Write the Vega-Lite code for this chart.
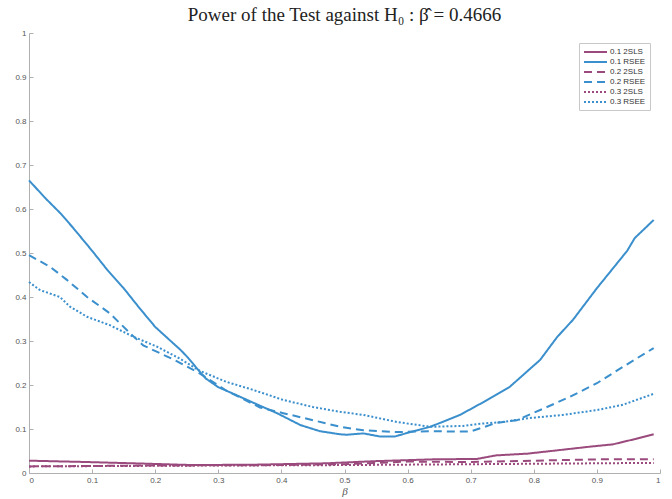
{
  "$schema": "https://vega.github.io/schema/vega-lite/v6.json",
  "width": 631,
  "height": 440,
  "autosize": {"type": "none"},
  "padding": {"left": 29, "top": 33, "right": 12, "bottom": 26},
  "background": "white",
  "title": {
    "text": "Power of the Test against H₀ : β̂ = 0.4666",
    "font": "Liberation Serif",
    "fontSize": 19,
    "fontWeight": "normal",
    "color": "#222",
    "anchor": "middle",
    "offset": 4
  },
  "config": {
    "view": {"stroke": null},
    "axis": {
      "grid": false,
      "domainColor": "#b0b0b0",
      "tickColor": "#b0b0b0",
      "labelColor": "#555",
      "labelFont": "Liberation Sans",
      "labelFontSize": 8,
      "tickSize": -4,
      "labelPadding": 7
    }
  },
  "data": {
    "values": [
      {"x": 0, "y": 0.665, "s": "0.1 RSEE"},
      {"x": 0.027, "y": 0.623, "s": "0.1 RSEE"},
      {"x": 0.05, "y": 0.59, "s": "0.1 RSEE"},
      {"x": 0.07, "y": 0.557, "s": "0.1 RSEE"},
      {"x": 0.1, "y": 0.505, "s": "0.1 RSEE"},
      {"x": 0.125, "y": 0.46, "s": "0.1 RSEE"},
      {"x": 0.15, "y": 0.42, "s": "0.1 RSEE"},
      {"x": 0.175, "y": 0.375, "s": "0.1 RSEE"},
      {"x": 0.2, "y": 0.332, "s": "0.1 RSEE"},
      {"x": 0.223, "y": 0.302, "s": "0.1 RSEE"},
      {"x": 0.24, "y": 0.28, "s": "0.1 RSEE"},
      {"x": 0.252, "y": 0.262, "s": "0.1 RSEE"},
      {"x": 0.266, "y": 0.238, "s": "0.1 RSEE"},
      {"x": 0.28, "y": 0.215, "s": "0.1 RSEE"},
      {"x": 0.3, "y": 0.195, "s": "0.1 RSEE"},
      {"x": 0.324, "y": 0.18, "s": "0.1 RSEE"},
      {"x": 0.355, "y": 0.16, "s": "0.1 RSEE"},
      {"x": 0.393, "y": 0.136, "s": "0.1 RSEE"},
      {"x": 0.43, "y": 0.109, "s": "0.1 RSEE"},
      {"x": 0.461, "y": 0.095, "s": "0.1 RSEE"},
      {"x": 0.493, "y": 0.088, "s": "0.1 RSEE"},
      {"x": 0.504, "y": 0.087, "s": "0.1 RSEE"},
      {"x": 0.53, "y": 0.09, "s": "0.1 RSEE"},
      {"x": 0.556, "y": 0.083, "s": "0.1 RSEE"},
      {"x": 0.58, "y": 0.083, "s": "0.1 RSEE"},
      {"x": 0.604, "y": 0.093, "s": "0.1 RSEE"},
      {"x": 0.636, "y": 0.105, "s": "0.1 RSEE"},
      {"x": 0.683, "y": 0.132, "s": "0.1 RSEE"},
      {"x": 0.72, "y": 0.161, "s": "0.1 RSEE"},
      {"x": 0.762, "y": 0.196, "s": "0.1 RSEE"},
      {"x": 0.81, "y": 0.257, "s": "0.1 RSEE"},
      {"x": 0.837, "y": 0.309, "s": "0.1 RSEE"},
      {"x": 0.862, "y": 0.348, "s": "0.1 RSEE"},
      {"x": 0.9, "y": 0.42, "s": "0.1 RSEE"},
      {"x": 0.948, "y": 0.505, "s": "0.1 RSEE"},
      {"x": 0.96, "y": 0.534, "s": "0.1 RSEE"},
      {"x": 0.99, "y": 0.575, "s": "0.1 RSEE"},

      {"x": 0, "y": 0.495, "s": "0.2 RSEE"},
      {"x": 0.033, "y": 0.469, "s": "0.2 RSEE"},
      {"x": 0.06, "y": 0.439, "s": "0.2 RSEE"},
      {"x": 0.092, "y": 0.4, "s": "0.2 RSEE"},
      {"x": 0.128, "y": 0.363, "s": "0.2 RSEE"},
      {"x": 0.16, "y": 0.318, "s": "0.2 RSEE"},
      {"x": 0.181, "y": 0.29, "s": "0.2 RSEE"},
      {"x": 0.229, "y": 0.258, "s": "0.2 RSEE"},
      {"x": 0.271, "y": 0.226, "s": "0.2 RSEE"},
      {"x": 0.313, "y": 0.187, "s": "0.2 RSEE"},
      {"x": 0.366, "y": 0.149, "s": "0.2 RSEE"},
      {"x": 0.403, "y": 0.136, "s": "0.2 RSEE"},
      {"x": 0.45, "y": 0.12, "s": "0.2 RSEE"},
      {"x": 0.493, "y": 0.105, "s": "0.2 RSEE"},
      {"x": 0.53, "y": 0.097, "s": "0.2 RSEE"},
      {"x": 0.583, "y": 0.093, "s": "0.2 RSEE"},
      {"x": 0.636, "y": 0.095, "s": "0.2 RSEE"},
      {"x": 0.699, "y": 0.094, "s": "0.2 RSEE"},
      {"x": 0.741, "y": 0.114, "s": "0.2 RSEE"},
      {"x": 0.773, "y": 0.12, "s": "0.2 RSEE"},
      {"x": 0.821, "y": 0.15, "s": "0.2 RSEE"},
      {"x": 0.857, "y": 0.173, "s": "0.2 RSEE"},
      {"x": 0.9, "y": 0.204, "s": "0.2 RSEE"},
      {"x": 0.941, "y": 0.241, "s": "0.2 RSEE"},
      {"x": 0.99, "y": 0.284, "s": "0.2 RSEE"},

      {"x": 0, "y": 0.434, "s": "0.3 RSEE"},
      {"x": 0.017, "y": 0.416, "s": "0.3 RSEE"},
      {"x": 0.049, "y": 0.4, "s": "0.3 RSEE"},
      {"x": 0.065, "y": 0.378, "s": "0.3 RSEE"},
      {"x": 0.092, "y": 0.355, "s": "0.3 RSEE"},
      {"x": 0.128, "y": 0.336, "s": "0.3 RSEE"},
      {"x": 0.165, "y": 0.31, "s": "0.3 RSEE"},
      {"x": 0.203, "y": 0.287, "s": "0.3 RSEE"},
      {"x": 0.239, "y": 0.26, "s": "0.3 RSEE"},
      {"x": 0.271, "y": 0.232, "s": "0.3 RSEE"},
      {"x": 0.313, "y": 0.207, "s": "0.3 RSEE"},
      {"x": 0.355, "y": 0.189, "s": "0.3 RSEE"},
      {"x": 0.403, "y": 0.166, "s": "0.3 RSEE"},
      {"x": 0.45, "y": 0.15, "s": "0.3 RSEE"},
      {"x": 0.493, "y": 0.139, "s": "0.3 RSEE"},
      {"x": 0.53, "y": 0.132, "s": "0.3 RSEE"},
      {"x": 0.583, "y": 0.116, "s": "0.3 RSEE"},
      {"x": 0.636, "y": 0.105, "s": "0.3 RSEE"},
      {"x": 0.688, "y": 0.107, "s": "0.3 RSEE"},
      {"x": 0.715, "y": 0.112, "s": "0.3 RSEE"},
      {"x": 0.751, "y": 0.116, "s": "0.3 RSEE"},
      {"x": 0.794, "y": 0.125, "s": "0.3 RSEE"},
      {"x": 0.846, "y": 0.132, "s": "0.3 RSEE"},
      {"x": 0.9, "y": 0.143, "s": "0.3 RSEE"},
      {"x": 0.941, "y": 0.155, "s": "0.3 RSEE"},
      {"x": 0.99, "y": 0.18, "s": "0.3 RSEE"},

      {"x": 0, "y": 0.028, "s": "0.1 2SLS"},
      {"x": 0.09, "y": 0.025, "s": "0.1 2SLS"},
      {"x": 0.19, "y": 0.021, "s": "0.1 2SLS"},
      {"x": 0.26, "y": 0.018, "s": "0.1 2SLS"},
      {"x": 0.36, "y": 0.019, "s": "0.1 2SLS"},
      {"x": 0.47, "y": 0.022, "s": "0.1 2SLS"},
      {"x": 0.55, "y": 0.027, "s": "0.1 2SLS"},
      {"x": 0.64, "y": 0.031, "s": "0.1 2SLS"},
      {"x": 0.71, "y": 0.032, "s": "0.1 2SLS"},
      {"x": 0.74, "y": 0.04, "s": "0.1 2SLS"},
      {"x": 0.79, "y": 0.044, "s": "0.1 2SLS"},
      {"x": 0.84, "y": 0.052, "s": "0.1 2SLS"},
      {"x": 0.89, "y": 0.06, "s": "0.1 2SLS"},
      {"x": 0.925, "y": 0.065, "s": "0.1 2SLS"},
      {"x": 0.96, "y": 0.077, "s": "0.1 2SLS"},
      {"x": 0.99, "y": 0.088, "s": "0.1 2SLS"},

      {"x": 0, "y": 0.015, "s": "0.2 2SLS"},
      {"x": 0.2, "y": 0.017, "s": "0.2 2SLS"},
      {"x": 0.4, "y": 0.018, "s": "0.2 2SLS"},
      {"x": 0.5, "y": 0.02, "s": "0.2 2SLS"},
      {"x": 0.6, "y": 0.026, "s": "0.2 2SLS"},
      {"x": 0.7, "y": 0.025, "s": "0.2 2SLS"},
      {"x": 0.8, "y": 0.028, "s": "0.2 2SLS"},
      {"x": 0.9, "y": 0.031, "s": "0.2 2SLS"},
      {"x": 0.99, "y": 0.031, "s": "0.2 2SLS"},

      {"x": 0, "y": 0.015, "s": "0.3 2SLS"},
      {"x": 0.3, "y": 0.017, "s": "0.3 2SLS"},
      {"x": 0.5, "y": 0.018, "s": "0.3 2SLS"},
      {"x": 0.7, "y": 0.02, "s": "0.3 2SLS"},
      {"x": 0.8, "y": 0.021, "s": "0.3 2SLS"},
      {"x": 0.99, "y": 0.023, "s": "0.3 2SLS"}
    ]
  },
  "mark": {"type": "line", "strokeWidth": 2, "interpolate": "linear"},
  "encoding": {
    "x": {
      "field": "x",
      "type": "quantitative",
      "scale": {"domain": [0, 1], "nice": false},
      "axis": {
        "values": [0, 0.1, 0.2, 0.3, 0.4, 0.5, 0.6, 0.7, 0.8, 0.9, 1],
        "format": "~g",
        "title": "β",
        "titleFont": "Liberation Serif",
        "titleFontStyle": "italic",
        "titleFontWeight": "normal",
        "titleFontSize": 11,
        "titleColor": "#555",
        "titlePadding": 1
      }
    },
    "y": {
      "field": "y",
      "type": "quantitative",
      "scale": {"domain": [0, 1], "nice": false},
      "axis": {
        "values": [0, 0.1, 0.2, 0.3, 0.4, 0.5, 0.6, 0.7, 0.8, 0.9, 1],
        "format": "~g",
        "title": null
      }
    },
    "color": {
      "field": "s",
      "type": "nominal",
      "scale": {
        "domain": ["0.1 2SLS", "0.1 RSEE", "0.2 2SLS", "0.2 RSEE", "0.3 2SLS", "0.3 RSEE"],
        "range": ["#9a4a7c", "#3a8fcc", "#9a4a7c", "#3a8fcc", "#9a4a7c", "#3a8fcc"]
      },
      "legend": {
        "title": null,
        "orient": "top-right",
        "offset": 10,
        "symbolType": "M-1,0H4.75",
        "symbolSize": 64,
        "symbolStrokeWidth": 2,
        "labelFont": "Liberation Sans",
        "labelFontSize": 8,
        "labelColor": "#333",
        "rowPadding": 1,
        "padding": 4,
        "strokeColor": "#c8c8c8",
        "fillColor": "white",
        "labelOffset": 17
      }
    },
    "strokeDash": {
      "field": "s",
      "type": "nominal",
      "scale": {
        "domain": ["0.1 2SLS", "0.1 RSEE", "0.2 2SLS", "0.2 RSEE", "0.3 2SLS", "0.3 RSEE"],
        "range": [[1, 0], [1, 0], [8, 5], [8, 5], [2, 2], [2, 2]]
      },
      "legend": null
    }
  }
}
